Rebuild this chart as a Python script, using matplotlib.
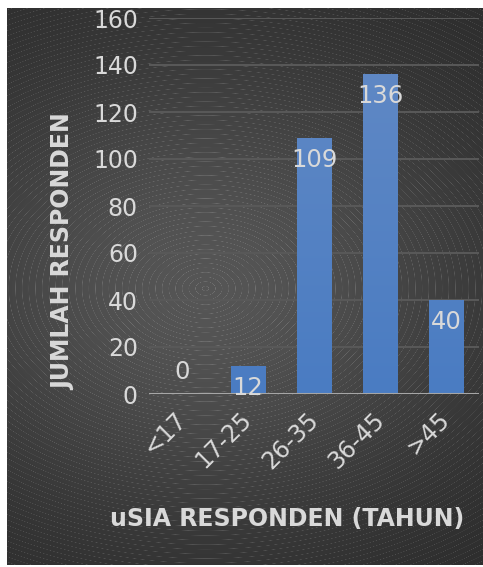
import numpy as np
import matplotlib
matplotlib.use("Agg")
import matplotlib.pyplot as plt
from matplotlib.colors import LinearSegmentedColormap
from matplotlib.transforms import ScaledTranslation

categories = ["<17", "17-25", "26-35", "36-45", ">45"]
counts = [0, 12, 109, 136, 40]
y_ticks = [0, 20, 40, 60, 80, 100, 120, 140, 160]
x_title = "uSIA RESPONDEN (TAHUN)"
y_title = "JUMLAH RESPONDEN"

W, H, DPI = 483, 567, 100
fig = plt.figure(figsize=(W / DPI, H / DPI), dpi=DPI, facecolor="white")

# dark radial background with fine concentric rings
bx0, by0, bx1, by1 = 7, 8, 483, 565
bw, bh = bx1 - bx0, by1 - by0
yy, xx = np.mgrid[0:bh, 0:bw].astype(float)
cx, cy = 205 - bx0, 288 - by0
dx, dy = xx - cx, yy - cy
r = np.sqrt(dx ** 2 + (1.2 * dy) ** 2)
base = 0.165 + 0.17 * np.exp(-(r / 280.0) ** 2)
d = np.sqrt(dx ** 2 + (1.6 * dy) ** 2)
d = d + 0.35 * np.sqrt(dx ** 2 + dy ** 2)
t = d % 9.0
ring = np.clip(1 - np.abs(t - 4.5) / 0.6, 0, 1)
img = np.clip(base + 0.11 * ring, 0, 1)
bg = fig.add_axes([bx0 / W, 1 - by1 / H, bw / W, bh / H], zorder=0)
bg.imshow(np.dstack([img, img, img]), aspect="auto", interpolation="bilinear")
bg.set_axis_off()

# plot area
left, right, y0, y160 = 149, 479, 394, 18
ax = fig.add_axes([left / W, 1 - y0 / H, (right - left) / W, (y0 - y160) / H], zorder=1)
ax.patch.set_alpha(0)
x = np.arange(len(categories))

for s in ax.spines.values():
    s.set_visible(False)
ax.set_yticks(y_ticks)
ax.yaxis.grid(True, color="#595959", linewidth=1.4)
ax.set_axisbelow(True)
ax.axhline(0, color="#a6a6a6", linewidth=2.2, zorder=3)

bars = ax.bar(x, counts, width=0.53, color="#4f80c3", zorder=2)
cmap = LinearSegmentedColormap.from_list("barfill", ["#4a7cc2", "#6189c5"])
grad = np.linspace(0, 1, 256).reshape(-1, 1)
for b in bars:
    if b.get_height() <= 0:
        continue
    im = ax.imshow(grad, cmap=cmap, aspect="auto", origin="lower",
                   extent=[-0.5, len(categories) - 0.5, 0, 150], zorder=2)
    im.set_clip_path(b)
ax.set_xlim(-0.5, len(categories) - 0.5)
ax.set_ylim(0, 160)

txt = "#d9d9d9"
for xi, v in zip(x, counts):
    off = 22 if v == 0 else -22
    ax.annotate(str(v), (xi, v), xytext=(0, off), textcoords="offset pixels",
                ha="center", va="center", fontsize=17.5, color=txt, zorder=4)

ax.tick_params(axis="y", length=0, pad=8, labelsize=17, labelcolor=txt)
ax.set_xticks(x)
ax.set_xticklabels(categories, rotation=45, ha="right", va="top",
                   rotation_mode="anchor", fontsize=17, color=txt)
ax.tick_params(axis="x", length=0, pad=9)
shift = ScaledTranslation(-0.08, -0.01, fig.dpi_scale_trans)
for lab in ax.get_xticklabels():
    lab.set_transform(lab.get_transform() + shift)

fig.text(287 / W, 1 - 519 / H, x_title, ha="center", va="center",
         fontsize=17, fontweight="bold", color=txt)
fig.text(63 / W, 1 - 252 / H, y_title, ha="center", va="center", rotation=90,
         fontsize=17, fontweight="bold", color=txt)

fig.savefig("out.png", dpi=DPI, facecolor="white")
